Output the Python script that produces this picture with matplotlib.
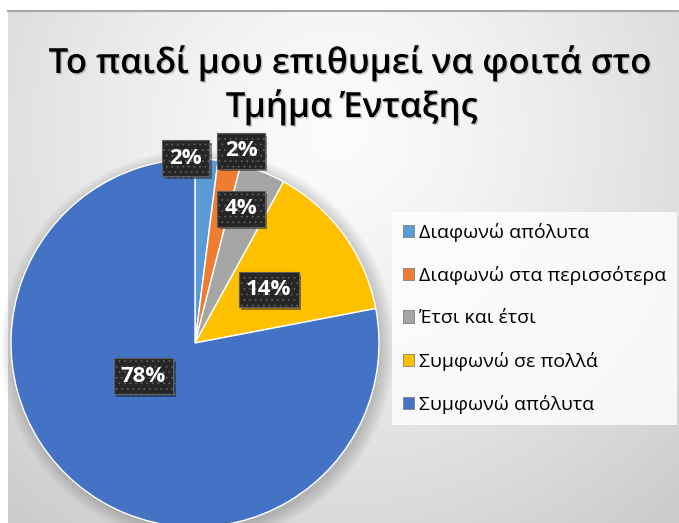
import numpy as np
import matplotlib
matplotlib.use("Agg")
import matplotlib.pyplot as plt
from matplotlib.patches import Patch, Circle
from matplotlib.lines import Line2D
import matplotlib.patheffects as pe

plt.rcParams['font.family'] = ['Open Sans', 'DejaVu Sans']
plt.rcParams['hatch.linewidth'] = 0.6

# -------------------------------------------------
# Datos
# -------------------------------------------------

titulo = ['Το παιδί μου επιθυμεί να φοιτά στο', 'Τμήμα Ένταξης']
categorias = ['Διαφωνώ απόλυτα', 'Διαφωνώ στα περισσότερα', 'Έτσι και έτσι',
              'Συμφωνώ σε πολλά', 'Συμφωνώ απόλυτα']
porcentajes = [2, 2, 4, 14, 78]
colores = ['#5B9BD5', '#ED7D31', '#A5A5A5', '#FFC000', '#4472C4']

# posiciones de las etiquetas (en radios del pastel)
pos_etiquetas = [(-0.05, 1.005), (0.25, 1.045), (0.25, 0.73), (0.40, 0.29), (-0.28, -0.18)]

# -------------------------------------------------
# Figura y fondo degradado
# -------------------------------------------------

W, H = 679, 523
fig = plt.figure(figsize=(W/100, H/100), dpi=100)
fig.patch.set_facecolor('white')

ax_bg = fig.add_axes([8/W, 0, 1 - 8/W, 1 - 12/H])
ax_bg.set_axis_off()
yy, xx = np.mgrid[0:511, 0:671]
d = np.hypot((xx - 330) / 520, (yy - 120) / 520)
gris = np.clip(252 - 50 * d**1.3, 205, 252) / 255
ax_bg.imshow(np.dstack([gris, gris, gris]), aspect='auto', interpolation='bilinear')

fig.add_artist(Line2D([8/W, 1], [1 - 11/H, 1 - 11/H], color='#a8a8a8', lw=1.5))

# -------------------------------------------------
# Pastel
# -------------------------------------------------

R = 184  # radio en pixeles
cx, cy = 195, 343
ax = fig.add_axes([0, 0, 1, 1])
ax.set_axis_off()
ax.patch.set_alpha(0)

# sombra suave
for i in range(8):
    ax.add_patch(Circle((0.015, -0.02), 1 + 0.01*i, color='k', alpha=0.025, lw=0))

wedges, _ = ax.pie(porcentajes, colors=colores, startangle=90, counterclock=False,
                   radius=1, center=(0, 0),
                   wedgeprops=dict(edgecolor='white', linewidth=1.0))
ax.set_xlim(-cx/R, (W - cx)/R)
ax.set_ylim(-(H - cy)/R, cy/R)
ax.set_axis_off()

for p, (x, y) in zip(porcentajes, pos_etiquetas):
    t = ax.text(x, y, f'{p}%', ha='center', va='center', color='white',
                fontsize=16, fontweight='bold',
                bbox=dict(boxstyle='square,pad=0.33', fc='#262626', ec='#5e5e5e',
                          hatch='...', lw=0.8))
    t.get_bbox_patch().set_path_effects([
        pe.SimplePatchShadow(offset=(2, -2), alpha=0.45), pe.Normal()])

# -------------------------------------------------
# Título y leyenda
# -------------------------------------------------

sombra = [pe.withSimplePatchShadow(offset=(1, -1), shadow_rgbFace='#9a9a9a', alpha=0.6)]
fig.text(350/W, 1 - 73/H, titulo[0], ha='center', va='baseline', fontsize=25,
         fontweight='semibold', color='black', path_effects=sombra)
fig.text(352/W, 1 - 117/H, titulo[1], ha='center', va='baseline', fontsize=25,
         fontweight='semibold', color='black', path_effects=sombra)

handles = [Patch(facecolor=c, edgecolor='#7f7f7f', lw=0.6) for c in colores]
leg = fig.legend(handles, categorias, loc='upper left',
                 bbox_to_anchor=(392/W, 1 - 212/H), fontsize=14, frameon=True,
                 fancybox=False, handlelength=0.6, handleheight=0.6,
                 handletextpad=0.25, labelspacing=1.25, borderpad=0.55,
                 borderaxespad=0)
leg.get_frame().set_facecolor((1, 1, 1, 0.35))
leg.get_frame().set_edgecolor('none')

fig.savefig('out.png', dpi=100)
